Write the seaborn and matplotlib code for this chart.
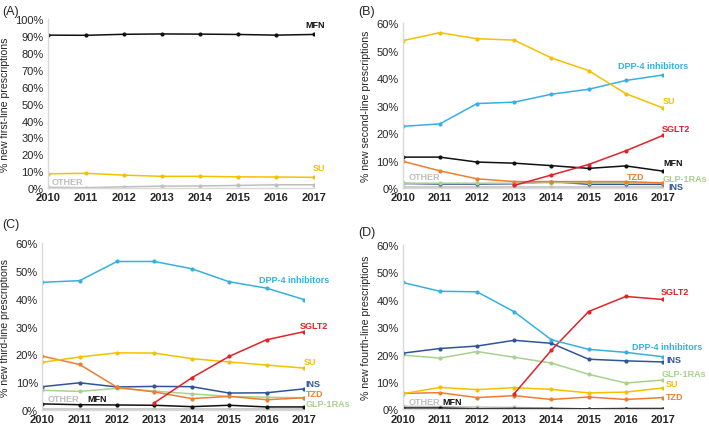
import matplotlib
matplotlib.use("Agg")
import matplotlib.pyplot as plt
import numpy as np
import pandas as pd
import seaborn as sns

years = [2010, 2011, 2012, 2013, 2014, 2015, 2016, 2017]
nan = np.nan

# (A) first-line
a_mfn = [90.5, 90.4, 91.0, 91.2, 91.1, 90.9, 90.5, 90.9]
a_su = [8.5, 8.8, 7.7, 7.0, 7.0, 6.7, 6.6, 6.4]
a_other = [0.5, 0.3, 0.8, 1.2, 1.3, 1.6, 2.0, 2.0]

# (B) second-line
b_su = [53.7, 56.6, 54.4, 53.9, 47.4, 42.8, 34.4, 29.2]
b_dpp4 = [22.5, 23.4, 30.8, 31.3, 34.2, 36.0, 39.2, 41.2]
b_sglt2 = [nan, nan, nan, 1.0, 4.8, 8.6, 13.6, 19.2]
b_mfn = [11.3, 11.3, 9.5, 9.1, 8.2, 7.2, 8.1, 6.2]
b_tzd = [9.8, 6.3, 3.4, 2.4, 2.4, 2.4, 2.4, 1.9]
b_glp1 = [1.8, 1.8, 1.8, 1.8, 2.0, 2.0, 2.0, 2.0]
b_ins = [1.7, 1.5, 1.5, 1.6, 2.4, 1.4, 1.4, 1.4]
b_other = [0.3, 0.3, 0.3, 0.3, 0.3, 0.3, 0.3, 0.3]

# (C) third-line
c_dpp4 = [46.0, 46.6, 53.5, 53.5, 50.9, 46.2, 43.9, 39.8]
c_sglt2 = [nan, nan, nan, 2.6, 11.6, 19.3, 25.3, 28.2]
c_su = [17.2, 19.1, 20.6, 20.5, 18.5, 17.3, 16.2, 15.1]
c_tzd = [19.4, 16.4, 8.2, 6.5, 4.1, 4.9, 3.7, 4.4]
c_ins = [8.4, 9.8, 8.3, 8.5, 8.4, 6.1, 6.2, 7.6]
c_glp1 = [7.1, 6.7, 7.8, 6.8, 5.8, 4.9, 4.6, 4.4]
c_mfn = [2.2, 1.9, 1.8, 1.7, 1.2, 1.7, 1.1, 1.1]
c_other = [0.5, 0.5, 0.5, 0.5, 0.5, 0.5, 0.5, 0.5]

# (D) fourth-line
d_dpp4 = [46.3, 43.1, 42.9, 35.6, 25.4, 21.9, 20.8, 19.2]
d_sglt2 = [nan, nan, nan, 5.7, 21.6, 35.7, 41.2, 40.1]
d_ins = [20.5, 22.2, 23.1, 25.2, 24.1, 18.3, 17.7, 17.3]
d_glp1 = [19.8, 18.7, 21.1, 19.0, 16.9, 12.8, 9.6, 10.7]
d_su = [5.7, 8.0, 7.2, 7.9, 7.3, 6.0, 6.3, 7.8]
d_tzd = [5.8, 6.1, 4.3, 5.0, 3.6, 4.5, 3.6, 4.3]
d_mfn = [0.5, 0.5, 0.2, 0.3, 0.3, 0.2, 0.3, 0.3]
d_other = [1.1, 1.0, 0.8, 0.7, 0.4, 0.1, 0.2, 0.2]

colors = {
    "MFN": "#111111",
    "SU": "#F5C000",
    "DPP-4 inhibitors": "#35B0E0",
    "SGLT2": "#E32229",
    "TZD": "#EE7D31",
    "GLP-1RAs": "#A9D18E",
    "INS": "#2F5597",
    "OTHER": "#BFBFBF",
}


def long_df(series):
    rows = []
    for name, vals in series.items():
        for yr, v in zip(years, vals):
            rows.append({"year": yr, "drug": name, "pct": v})
    return pd.DataFrame(rows).dropna()


def draw_panel(ax, series, ymax, ylabel, labels):
    df = long_df(series)
    sns.lineplot(data=df, x="year", y="pct", hue="drug", palette=colors,
                 marker="o", markersize=3, markeredgewidth=0, linewidth=1.1,
                 legend=False, ax=ax, hue_order=list(series.keys())[::-1])
    ax.set_xlim(2010, 2017)
    ax.set_ylim(0, ymax)
    ax.set_xticks(years)
    ax.set_xticklabels([str(y) for y in years], fontweight="bold", fontsize=8)
    ax.set_yticks(np.arange(0, ymax + 1, 10))
    ax.set_yticklabels([f"{t}%" for t in range(0, ymax + 1, 10)], fontsize=8)
    ax.tick_params(length=0, pad=3)
    for s in ["top", "right"]:
        ax.spines[s].set_visible(False)
    for s in ["left", "bottom"]:
        ax.spines[s].set_color("#D9D9D9")
        ax.spines[s].set_linewidth(1)
    ax.set_xlabel("")
    ax.set_ylabel(ylabel, fontsize=7.6)
    for text, x, y, ha in labels:
        ax.text(x, y, text, color=colors[text], fontsize=6.5, fontweight="bold",
                ha=ha, va="center", clip_on=False)


sns.set_style("white")
plt.rcParams["font.family"] = ["Liberation Sans", "DejaVu Sans"]

fig = plt.figure(figsize=(7.09, 4.27), dpi=100)
axA = fig.add_axes([0.0677, 0.557, 0.375, 0.396])
axB = fig.add_axes([0.568, 0.557, 0.367, 0.386])
axC = fig.add_axes([0.0596, 0.0375, 0.369, 0.39])
axD = fig.add_axes([0.568, 0.039, 0.367, 0.385])

draw_panel(axA, {"MFN": a_mfn, "SU": a_su, "OTHER": a_other}, 100,
           "% new first-line prescriptions",
           [("MFN", 2017.3, 97, "right"), ("SU", 2017.3, 12.5, "right"),
            ("OTHER", 2010.1, 4, "left")])

draw_panel(axB, {"SU": b_su, "DPP-4 inhibitors": b_dpp4, "SGLT2": b_sglt2,
                 "MFN": b_mfn, "TZD": b_tzd, "GLP-1RAs": b_glp1,
                 "INS": b_ins, "OTHER": b_other}, 60,
           "% new second-line prescriptions",
           [("DPP-4 inhibitors", 2015.8, 44.5, "left"), ("SU", 2017.0, 31.9, "left"),
            ("SGLT2", 2016.96, 21.8, "left"), ("MFN", 2017.0, 9.2, "left"),
            ("TZD", 2016.5, 4.2, "right"), ("GLP-1RAs", 2017.0, 3.4, "left"),
            ("INS", 2017.15, 0.6, "left"), ("OTHER", 2010.17, 4.2, "left")])

draw_panel(axC, {"DPP-4 inhibitors": c_dpp4, "SGLT2": c_sglt2, "SU": c_su,
                 "TZD": c_tzd, "INS": c_ins, "GLP-1RAs": c_glp1,
                 "MFN": c_mfn, "OTHER": c_other}, 60,
           "% new third-line prescriptions",
           [("DPP-4 inhibitors", 2015.8, 47, "left"), ("SGLT2", 2016.9, 30.4, "left"),
            ("SU", 2017.0, 17.5, "left"), ("INS", 2017.05, 9.6, "left"),
            ("TZD", 2017.05, 5.8, "left"), ("GLP-1RAs", 2017.05, 2.2, "left"),
            ("OTHER", 2010.15, 4, "left"), ("MFN", 2011.2, 4, "left")])

draw_panel(axD, {"DPP-4 inhibitors": d_dpp4, "SGLT2": d_sglt2, "INS": d_ins,
                 "GLP-1RAs": d_glp1, "SU": d_su, "TZD": d_tzd,
                 "MFN": d_mfn, "OTHER": d_other}, 60,
           "% new fourth-line prescriptions",
           [("SGLT2", 2016.94, 42.9, "left"), ("DPP-4 inhibitors", 2016.18, 22.8, "left"),
            ("INS", 2017.09, 18.1, "left"), ("GLP-1RAs", 2016.97, 13.2, "left"),
            ("SU", 2017.09, 9.5, "left"), ("TZD", 2017.09, 4.6, "left"),
            ("OTHER", 2010.15, 2.9, "left"), ("MFN", 2011.08, 2.9, "left")])

fig.text(0.003, 0.972, "(A)", fontsize=9, va="center")
fig.text(0.505, 0.972, "(B)", fontsize=9, va="center")
fig.text(0.003, 0.473, "(C)", fontsize=9, va="center")
fig.text(0.505, 0.455, "(D)", fontsize=9, va="center")

fig.savefig("out.png", dpi=100)
